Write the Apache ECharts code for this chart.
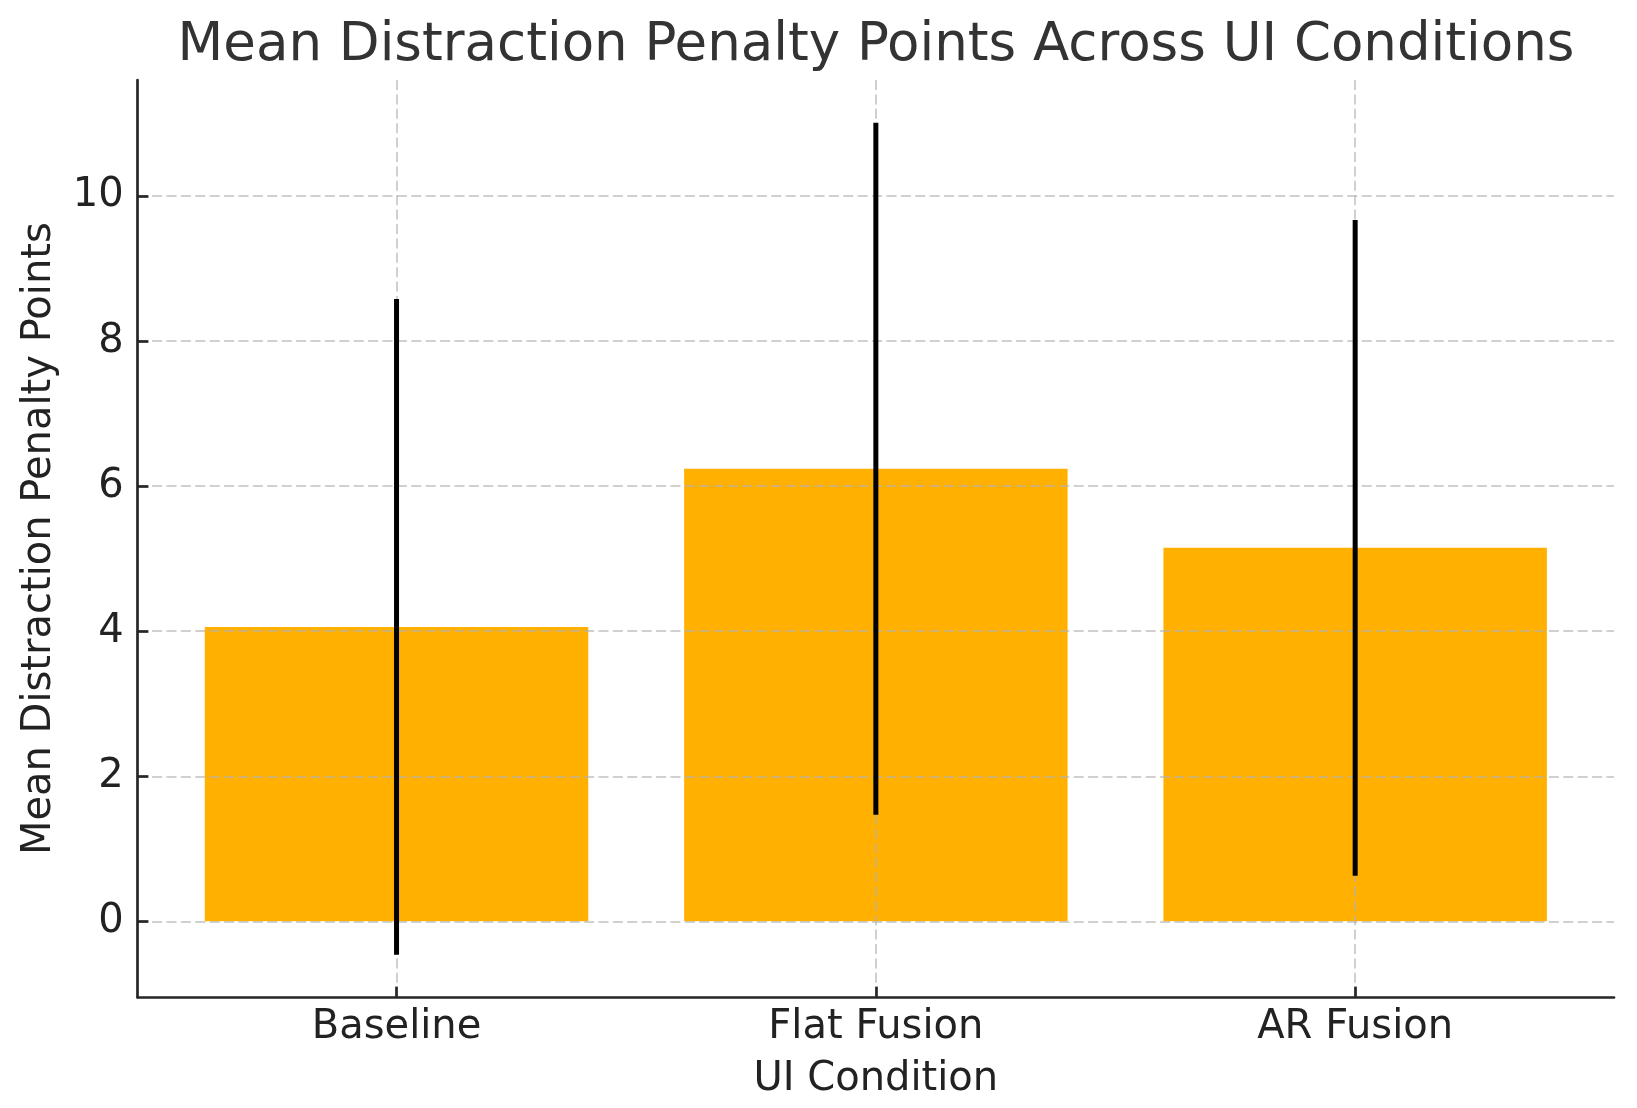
<!DOCTYPE html>
<html><head><meta charset="utf-8">
<script src="https://cdn.jsdelivr.net/npm/echarts@6/dist/echarts.min.js"></script>
<style>html,body{margin:0;padding:0;background:#fff}#c{width:1637px;height:1108px}</style>
</head><body><div id="c"></div>
<script>
const categories = ['Baseline', 'Flat Fusion', 'AR Fusion'];
const means = [4.06, 6.24, 5.15];
const stdDevs = [4.52, 4.77, 4.52];
const yTicks = [0, 2, 4, 6, 8, 10];
const xTicks = [0, 1, 2];
const titleText = 'Mean Distraction Penalty Points Across UI Conditions';
const xLabel = 'UI Condition';
const yLabel = 'Mean Distraction Penalty Points';

const FONT = 'DejaVu Sans';
const rows = categories.map((c, i) => [i, means[i], stdDevs[i]]);

const chart = echarts.init(document.getElementById('c'), null, {renderer: 'canvas'});
const gridStyle = {color: 'rgba(176,176,176,0.6)', width: 2, type: [10, 4.4]};
const axisLineStyle = {color: '#262626', width: 2.7};

chart.setOption({
  animation: false,
  backgroundColor: '#ffffff',
  title: {
    text: titleText, left: 871, textAlign: 'center', top: 15,
    textStyle: {fontFamily: FONT, fontSize: 53, fontWeight: 'normal', color: '#333333'}
  },
  grid: {left: 137.7, right: 23, top: 80, bottom: 110.7, containLabel: false, outerBoundsMode: 'none'},
  xAxis: {
    type: 'value', min: -0.54, max: 2.54, z: 3,
    name: xLabel, nameLocation: 'middle', nameGap: 62,
    nameTextStyle: {fontFamily: FONT, fontSize: 40, color: '#222222'},
    axisLine: {show: true, onZero: false, lineStyle: axisLineStyle},
    axisTick: {show: true, inside: true, length: 10.7, customValues: xTicks, lineStyle: axisLineStyle},
    axisLabel: {customValues: xTicks, margin: 10, fontFamily: FONT, fontSize: 40, color: '#222222',
      formatter: v => categories[Math.round(v)] || ''},
    splitLine: {show: true, lineStyle: gridStyle}
  },
  yAxis: {
    type: 'value', min: -1.047, max: 11.6, z: 3,
    name: yLabel, nameLocation: 'middle', nameGap: 78, nameRotate: 90,
    nameTextStyle: {fontFamily: FONT, fontSize: 40, color: '#222222'},
    axisLine: {show: true, onZero: false, lineStyle: axisLineStyle},
    axisTick: {show: true, inside: true, length: 10.7, customValues: yTicks, lineStyle: axisLineStyle},
    axisLabel: {customValues: yTicks, margin: 14, fontFamily: FONT, fontSize: 40, color: '#222222'},
    splitLine: {show: true, lineStyle: gridStyle}
  },
  series: [
    {
      type: 'custom', z: 1,
      data: rows,
      renderItem: function (params, api) {
        const x = api.value(0), y = api.value(1);
        const p1 = api.coord([x - 0.4, y]);
        const p2 = api.coord([x + 0.4, 0]);
        return {type: 'rect', shape: {x: p1[0], y: p1[1], width: p2[0] - p1[0], height: p2[1] - p1[1]},
          style: {fill: '#FFB000'}};
      }
    },
    {
      type: 'custom', z: 5,
      data: rows,
      renderItem: function (params, api) {
        const x = api.value(0), m = api.value(1), s = api.value(2);
        const a = api.coord([x, m - s]);
        const b = api.coord([x, m + s]);
        return {type: 'line', shape: {x1: a[0], y1: a[1], x2: b[0], y2: b[1]},
          style: {stroke: '#000000', lineWidth: 5}};
      }
    }
  ]
});
</script>
</body></html>
